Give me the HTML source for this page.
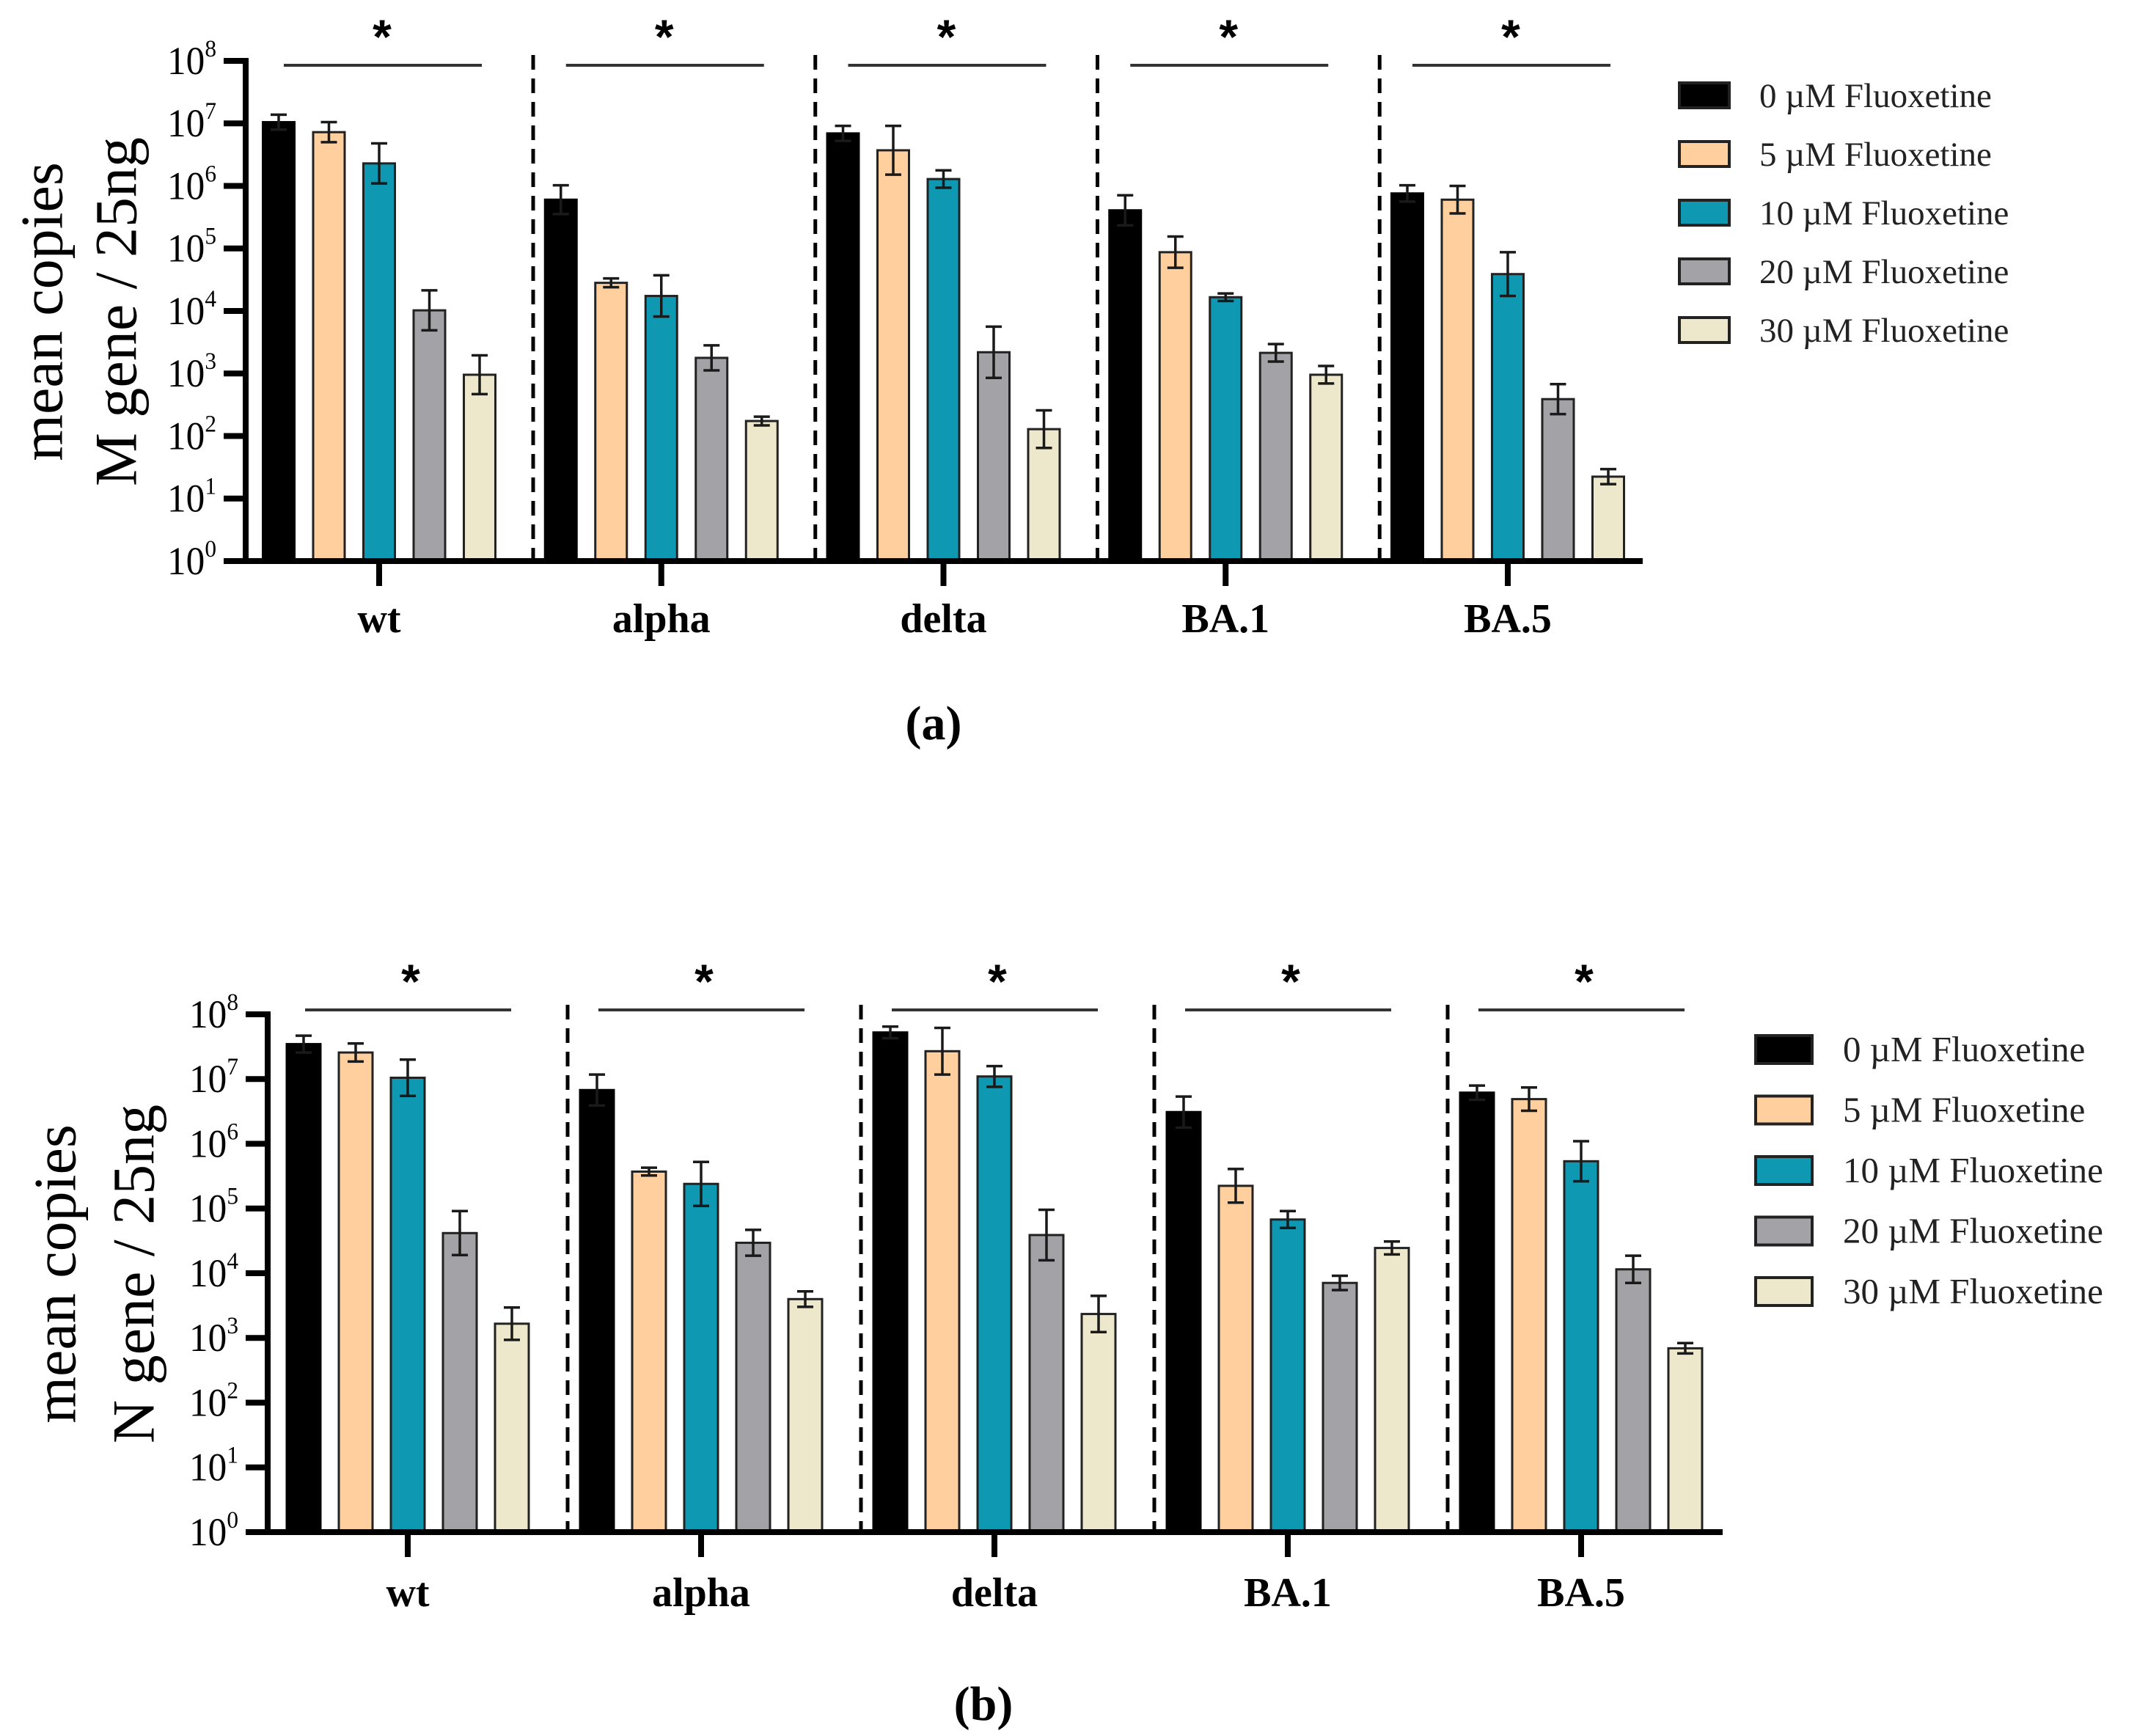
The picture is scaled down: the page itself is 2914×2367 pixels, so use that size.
<!DOCTYPE html>
<html><head><meta charset="utf-8"><style>
html,body{margin:0;padding:0;background:#fff;}
svg{display:block;font-family:"Liberation Serif",serif;}
</style></head><body>
<svg id="fig" width="2914" height="2367" viewBox="0 0 2914 2367" xmlns="http://www.w3.org/2000/svg"></svg>
<script>
// ---- data ----
const categories = ["wt","alpha","delta","BA.1","BA.5"];
const seriesNames = ["0 \u00b5M Fluoxetine","5 \u00b5M Fluoxetine","10 \u00b5M Fluoxetine","20 \u00b5M Fluoxetine","30 \u00b5M Fluoxetine"];
const seriesColors = ["#000000","#FFCF9E","#0E98B2","#A2A2A7","#EDE7CB"];
const yTickExponents = [0,1,2,3,4,5,6,7,8];
// panel a: log10 mean copies M gene, per series (rows) x category (cols)
const mLog0  = [7.02, 5.78, 6.84, 5.61, 5.88];
const mLog5  = [6.86, 4.45, 6.57, 4.94, 5.78];
const mLog10 = [6.36, 4.24, 6.11, 4.22, 4.59];
const mLog20 = [4.01, 3.25, 3.34, 3.33, 2.59];
const mLog30 = [2.98, 2.24, 2.11, 2.98, 1.35];
const mErr0  = [0.12, 0.23, 0.12, 0.24, 0.13];
const mErr5  = [0.16, 0.07, 0.39, 0.25, 0.22];
const mErr10 = [0.32, 0.33, 0.14, 0.06, 0.35];
const mErr20 = [0.32, 0.20, 0.41, 0.14, 0.24];
const mErr30 = [0.31, 0.07, 0.30, 0.14, 0.12];
// panel b: log10 mean copies N gene
const nLog0  = [7.54, 6.83, 7.72, 6.49, 6.79];
const nLog5  = [7.41, 5.57, 7.43, 5.35, 6.69];
const nLog10 = [7.02, 5.38, 7.04, 4.83, 5.73];
const nLog20 = [4.62, 4.47, 4.59, 3.85, 4.06];
const nLog30 = [3.22, 3.60, 3.37, 4.39, 2.84];
const nErr0  = [0.13, 0.24, 0.09, 0.24, 0.11];
const nErr5  = [0.14, 0.06, 0.36, 0.26, 0.18];
const nErr10 = [0.28, 0.34, 0.16, 0.13, 0.31];
const nErr20 = [0.34, 0.20, 0.39, 0.11, 0.21];
const nErr30 = [0.25, 0.12, 0.28, 0.10, 0.08];

const NS="http://www.w3.org/2000/svg";
const svg=document.getElementById('fig');
function mk(tag,attrs,parent){const e=document.createElementNS(NS,tag);for(const k in attrs)e.setAttribute(k,attrs[k]);(parent||svg).appendChild(e);return e;}

function panel(cfg){
  const g=mk('g',{});
  
  
  const y=v=>cfg.y0-(v-0)*(cfg.y0-cfg.y8)/8;
  const cx=i=>cfg.c0+i*cfg.cstep;
  for(let i=0;i<categories.length-1;i++){
    const d=mk('line',{x1:cx(i)+cfg.sep,x2:cx(i)+cfg.sep,y1:cfg.dashTop,y2:cfg.y0,stroke:'#000','stroke-width':5,'stroke-dasharray':'20 12'},g);
    
    
  }
  for(let s=0;s<5;s++){
    for(let i=0;i<categories.length;i++){
      const v=cfg.vals[s][i], e=cfg.errs[s][i];
      const xc=cx(i)+(s-2)*cfg.bstep;
      const top=y(v);
      const r=mk('rect',{x:xc-cfg.bw/2,y:top,width:cfg.bw,height:cfg.y0-top,fill:seriesColors[s],stroke:s===0?'#000':'#222','stroke-width':3},g);
      
      
      const yt=y(v+e), yb=y(Math.max(v-e,0));
      const eb=mk('path',{d:`M${xc},${yb}V${yt}M${xc-11},${yt}H${xc+11}M${xc-11},${yb}H${xc+11}`,stroke:'#1a1a1a','stroke-width':3.5,fill:'none'},g);
      
      
    }
  }
  const ya=mk('line',{x1:cfg.ax,x2:cfg.ax,y1:cfg.y8-4,y2:cfg.y0+4,stroke:'#000','stroke-width':8},g);
  
  
  const xa=mk('line',{x1:cfg.ax-30,x2:cfg.xEnd,y1:cfg.y0,y2:cfg.y0,stroke:'#000','stroke-width':8},g);
  
  
  yTickExponents.forEach(p=>{
    const yy=y(p);
    const t=mk('line',{x1:cfg.ax-30,x2:cfg.ax,y1:yy,y2:yy,stroke:'#000','stroke-width':8},g);
    
    
    const tx=mk('text',{x:cfg.ax-40,y:yy+18,'text-anchor':'end','font-size':54},g);
    
    
    tx.textContent='10';
    const sp=mk('tspan',{dy:-24,'font-size':33},tx);
    sp.textContent=String(p);
    tx.setAttribute('transform',`translate(${cfg.ax-40},0) scale(0.95,1) translate(${-(cfg.ax-40)},0)`);
  });
  categories.forEach((c,i)=>{
    const t=mk('line',{x1:cx(i),x2:cx(i),y1:cfg.y0,y2:cfg.y0+34,stroke:'#000','stroke-width':8},g);
    
    
    const l=mk('text',{x:cx(i),y:cfg.labY,'text-anchor':'middle','font-size':56,'font-weight':'bold'},g);
    
    
    l.textContent=c;
    const sl=mk('line',{x1:cx(i)-cfg.sigL,x2:cx(i)+cfg.sigR,y1:cfg.sigY,y2:cfg.sigY,stroke:'#333','stroke-width':4},g);
    
    
    const st=mk('text',{x:cx(i)+4,y:cfg.sigY-16,'text-anchor':'middle','font-size':66,'font-weight':'bold','font-family':'Liberation Sans, sans-serif'},g);
    
    
    st.textContent='*';
  });
  const t1=mk('text',{x:cfg.t1x,y:cfg.ty,'text-anchor':'middle','font-size':82,transform:`rotate(-90 ${cfg.t1x} ${cfg.ty})`,'dominant-baseline':'central'},g);
  
  
  t1.textContent='mean copies';
  const t2=mk('text',{x:cfg.t2x,y:cfg.ty,'text-anchor':'middle','font-size':82,transform:`rotate(-90 ${cfg.t2x} ${cfg.ty})`,'dominant-baseline':'central'},g);
  
  
  t2.textContent=cfg.gene+' gene / 25ng';
  seriesNames.forEach((n,s)=>{
    const yy=cfg.legY0+s*cfg.legStep;
    const r=mk('rect',{x:cfg.legX,y:yy-cfg.legH/2,width:cfg.legW,height:cfg.legH,fill:seriesColors[s],stroke:'#222','stroke-width':4},g);
    
    
    const t=mk('text',{x:cfg.legTX,y:yy+16,'font-size':cfg.legFont,fill:'#222'},g);
    
    
    t.textContent=n;
  });
  const pl=mk('text',{x:cfg.plX,y:cfg.plY,'text-anchor':'middle','font-size':66,'font-weight':'bold'},g);
  
  
  pl.textContent=cfg.label;
}

panel({name:'panel-a-m-gene',gene:'M',label:'(a)',
  vals:[mLog0,mLog5,mLog10,mLog20,mLog30],errs:[mErr0,mErr5,mErr10,mErr20,mErr30],
  y0:765,y8:83,ax:335,xEnd:2240,c0:517,cstep:384.75,bw:43,bstep:68.5,sep:210,dashTop:75,
  sigY:89,sigL:130,sigR:140,labY:862,t1x:57,t2x:158,ty:425,
  legX:2290,legW:68,legH:34,legY0:130,legStep:80,legTX:2399,legFont:47,plX:1273,plY:1008});
panel({name:'panel-b-n-gene',gene:'N',label:'(b)',
  vals:[nLog0,nLog5,nLog10,nLog20,nLog30],errs:[nErr0,nErr5,nErr10,nErr20,nErr30],
  y0:2089,y8:1383,ax:365,xEnd:2349,c0:556,cstep:400,bw:46,bstep:71,sep:218,dashTop:1370,
  sigY:1377,sigL:140,sigR:141,labY:2190,t1x:75,t2x:182,ty:1737,
  legX:2394,legW:77,legH:38,legY0:1431,legStep:82.5,legTX:2513,legFont:49,plX:1341,plY:2345});
</script>
</body></html>
